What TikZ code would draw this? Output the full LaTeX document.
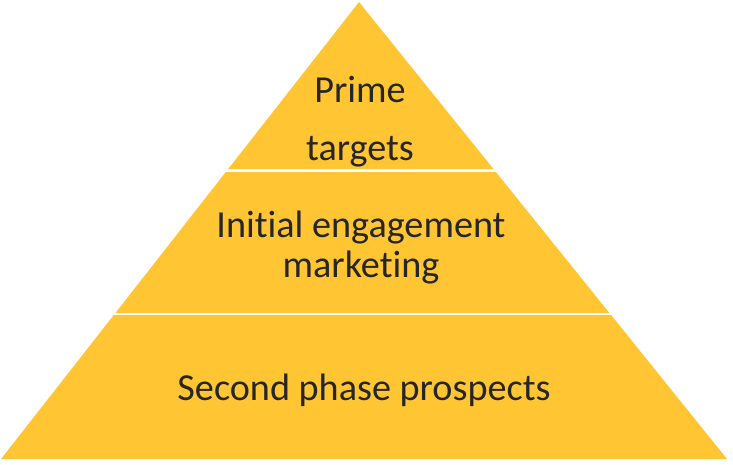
\documentclass[tikz,border=0pt]{standalone}
\usepackage{fontspec}
\setmainfont{Carlito}[Ligatures=NoCommon]
\usetikzlibrary{
  positioning,
  calc,
}
\definecolor{pyrFill}{HTML}{FFC533}
\definecolor{textCol}{HTML}{262626}
\tikzset{
  layer/.style={fill=pyrFill, draw=none},
  label/.style={
    font=\fontsize{32.6}{33.3}\selectfont, text=textCol,
    align=center, inner sep=0pt,
  },
}

\begin{document}
\begin{tikzpicture}[x=0.03cm, y=-0.03cm]

  \useasboundingbox (0, 0) rectangle (733, 464);

  % Layers
  \fill[layer] (359, 2) -- (493.5, 169) -- (228.2, 169) -- cycle;
  \fill[layer] (225.8, 172) -- (495.9, 172) -- (609.4, 313) -- (115.4, 313) -- cycle;
  \fill[layer] (113.8, 315) -- (611.1, 315) -- (727, 459) -- (1, 459) -- cycle;

  % Texts
  \node[label, font=\fontsize{32.6}{49.5}\selectfont, anchor=base] (top) at (360, 160) {Prime\\targets};
  \node[label, anchor=base] (mid) at (361, 277) {Initial engagement\\marketing};
  \node[label, anchor=base] (bottom) at (364, 400) {Second phase prospects};

\end{tikzpicture}
\end{document}
